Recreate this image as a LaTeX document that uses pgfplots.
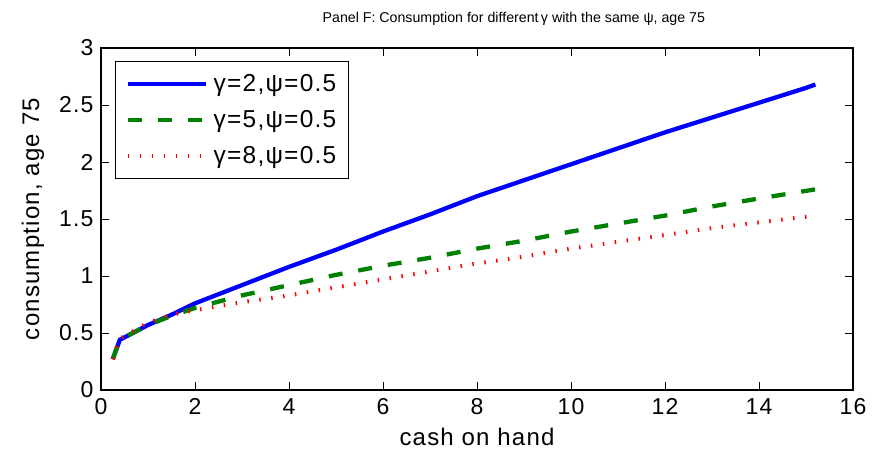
\documentclass[border=0pt]{standalone}
\usepackage{fontspec}
\setmainfont{Liberation Sans}
\newfontfamily\wide[LetterSpace=5]{Liberation Sans}
\usepackage{pgfplots}
\pgfplotsset{compat=1.18}
\begin{document}
\begin{tikzpicture}
\path[use as bounding box] (-101pt,-71pt) rectangle (786pt,390pt);
\begin{axis}[
  at={(0,0)}, anchor=south west,
  scale only axis, width=752pt, height=342pt,
  xmin=0, xmax=16, ymin=0, ymax=3,
  xtick={0,2,...,16}, ytick={0,0.5,1,1.5,2,2.5,3},
  tick align=inside,
  major tick length=8pt,
  tick style={black, line width=0.8pt},
  axis line style={line width=1.2pt},
  /pgf/number format/assume math mode=true,
  ticklabel style={font=\wide\fontsize{23}{26}\selectfont},
  xticklabel style={yshift=-5pt},
  yticklabel style={xshift=-4pt},
  xlabel={cash on hand},
  ylabel={consumption, age 75},
  label style={font=\wide\fontsize{24}{28}\selectfont},
  xlabel style={at={(axis description cs:0.5,-0.137)}, anchor=center},
  ylabel style={at={(axis description cs:-0.0904,0.5)}, anchor=center},
  title={Panel F: Consumption for different\,γ with the same ψ, age 75},
  title style={font=\fontsize{14.2}{17}\selectfont, at={(axis description cs:0.549,1.067)}, anchor=center},
  legend style={at={(0.0186,0.962)}, anchor=north west, draw=black, line width=0.8pt,
    font=\wide\fontsize{24.5}{28}\selectfont, inner xsep=10pt, inner ysep=11pt, row sep=13.5pt,
    /tikz/every odd column/.append style={column sep=4pt}},
  legend cell align=left,
  legend image code/.code={\draw[#1] (0pt,0pt) -- (78pt,0pt);},
]
\addplot[blue, line width=4.3pt] coordinates {
(0.25,0.27) (0.4,0.44) (1,0.57) (1.5,0.66) (2,0.76) (3,0.92) (4,1.08) (5,1.23)
(6,1.39) (7,1.54) (8,1.70) (9,1.84) (10,1.98) (11,2.12) (12,2.26) (13,2.39)
(14,2.52) (15,2.65) (15.2,2.68)};
\addlegendentry{γ=2,ψ=0.5}
\addplot[green!50!black, line width=4.3pt, dash pattern=on 14pt off 16pt] coordinates {
(0.25,0.27) (0.4,0.44) (1,0.57) (1.5,0.65) (2,0.72) (3,0.83) (4,0.92) (5,1.01)
(6,1.09) (7,1.16) (8,1.24) (9,1.31) (10,1.39) (11,1.46) (12,1.53) (13,1.61)
(14,1.68) (15.2,1.76)};
\addlegendentry{γ=5,ψ=0.5}
\addplot[red, line width=4pt, dash pattern=on 1.5pt off 10.5pt] coordinates {
(0.25,0.27) (0.4,0.45) (1,0.59) (1.5,0.66) (2,0.70) (3,0.77) (4,0.83) (5,0.90)
(6,0.97) (7,1.04) (8,1.11) (9,1.17) (10,1.24) (11,1.30) (12,1.36) (13,1.42)
(14,1.47) (15.2,1.53)};
\addlegendentry{γ=8,ψ=0.5}
\end{axis}
\end{tikzpicture}
\end{document}
